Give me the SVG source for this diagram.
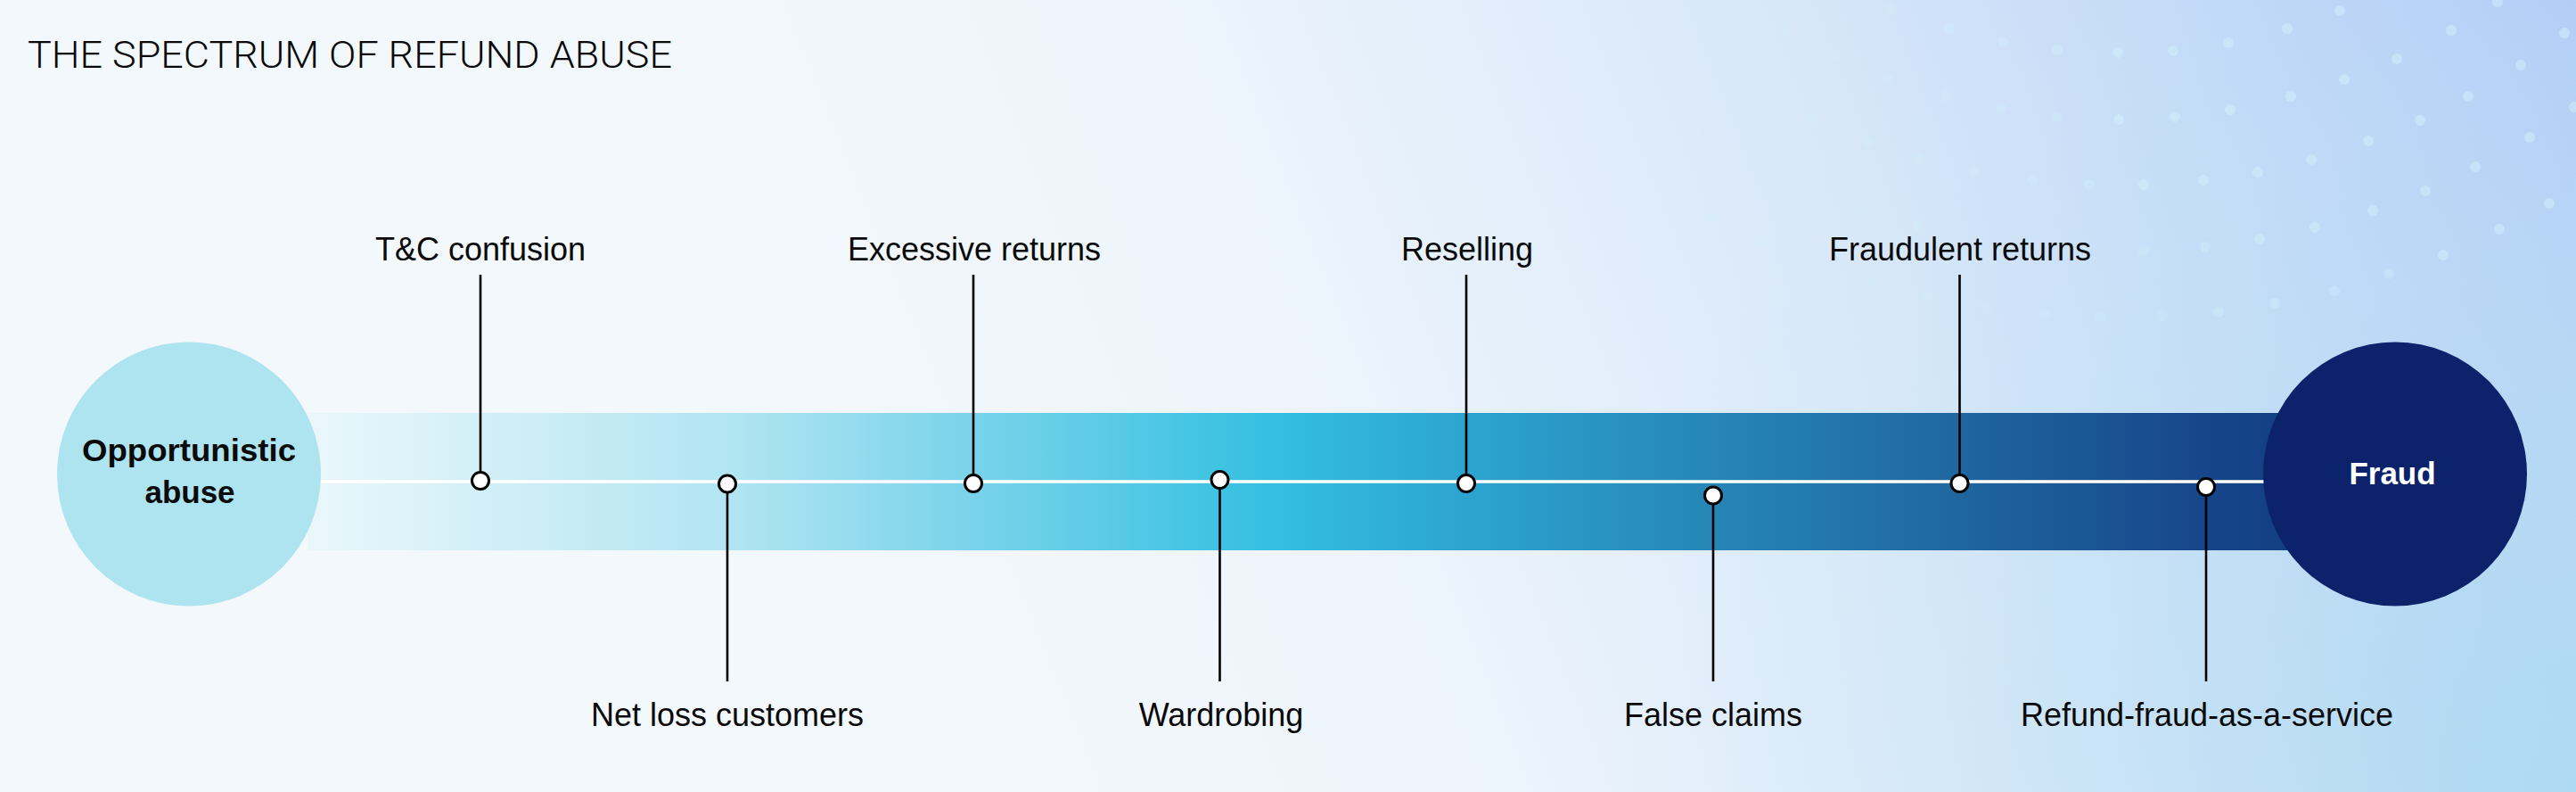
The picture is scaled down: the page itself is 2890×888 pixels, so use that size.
<svg xmlns="http://www.w3.org/2000/svg" width="2890" height="888" viewBox="0 0 2890 888">
  <defs>
    <linearGradient id="bg" gradientUnits="userSpaceOnUse" x1="900" y1="800" x2="2890" y2="0">
      <stop offset="0" stop-color="#f3f8fc"/>
      <stop offset="0.3" stop-color="#eef5fc"/>
      <stop offset="0.62" stop-color="#d7e7f9"/>
      <stop offset="1" stop-color="#b0cbf6"/>
    </linearGradient>
    <radialGradient id="bgCyan" gradientUnits="userSpaceOnUse" cx="2890" cy="888" r="1100">
      <stop offset="0" stop-color="#a9d9f0" stop-opacity="0.8"/>
      <stop offset="0.6" stop-color="#b9e0f3" stop-opacity="0.3"/>
      <stop offset="1" stop-color="#c8e6f6" stop-opacity="0"/>
    </radialGradient>
    <linearGradient id="band" gradientUnits="userSpaceOnUse" x1="345" y1="0" x2="2690" y2="0">
      <stop offset="0" stop-color="#eaf7fb"/>
      <stop offset="0.083" stop-color="#d3eff7"/>
      <stop offset="0.201" stop-color="#b2e5f2"/>
      <stop offset="0.318" stop-color="#79d3ea"/>
      <stop offset="0.436" stop-color="#40c3e3"/>
      <stop offset="0.467" stop-color="#33bde0"/>
      <stop offset="0.554" stop-color="#2ca4d0"/>
      <stop offset="0.672" stop-color="#2686b6"/>
      <stop offset="0.790" stop-color="#1f669f"/>
      <stop offset="0.908" stop-color="#16468a"/>
      <stop offset="1" stop-color="#10357a"/>
    </linearGradient>
  </defs>
  <style>
    .label { font-family: "Liberation Sans", Arial, sans-serif; font-size: 36px; fill: #0a0a0a; text-anchor: middle; }
    .hub { font-family: "Liberation Sans", Arial, sans-serif; font-size: 35px; font-weight: bold; text-anchor: middle; }
    .title { font-family: Roboto, "Liberation Sans", sans-serif; font-size: 43px; font-weight: 300; fill: #0a0a0a; }
    .dot { fill: #d2f2fb; }
    .lead { stroke: #000; stroke-width: 2.6; fill: none; }
    .pin { fill: #fff; stroke: #000; stroke-width: 3; }
  </style>

  <rect x="0" y="0" width="2890" height="888" fill="url(#bg)"/>
  <rect x="0" y="0" width="2890" height="888" fill="url(#bgCyan)"/>

  <g id="dots" class="dot">
    <g opacity="0.2">
      <circle cx="1914" cy="149" r="6"/><circle cx="1925" cy="73" r="6"/><circle cx="1969" cy="185" r="6"/><circle cx="1978" cy="105" r="6"/>
      <circle cx="2003" cy="33" r="6"/><circle cx="2026" cy="212" r="6"/><circle cx="2032" cy="133" r="6"/><circle cx="2059" cy="63" r="6"/>
      <circle cx="1919" cy="242" r="6"/><circle cx="1976" cy="270" r="6"/><circle cx="2039" cy="297" r="6"/><circle cx="2089" cy="236" r="6"/>
      <circle cx="2102" cy="317" r="6"/><circle cx="2162" cy="332" r="6"/><circle cx="2230" cy="345" r="6"/><circle cx="2294" cy="352" r="6"/>
      <circle cx="2356" cy="355" r="6"/><circle cx="2426" cy="354" r="6"/>
    </g>
    <g opacity="0.35">
      <circle cx="2122" cy="10" r="6"/><circle cx="2187" cy="32" r="6"/><circle cx="2247" cy="47" r="6"/><circle cx="2308" cy="56" r="6"/>
      <circle cx="2118" cy="88" r="6"/><circle cx="2183" cy="108" r="6"/><circle cx="2245" cy="122" r="6"/><circle cx="2307" cy="131" r="6"/>
      <circle cx="2096" cy="159" r="6"/><circle cx="2154" cy="178" r="6"/><circle cx="2214" cy="192" r="6"/><circle cx="2281" cy="202" r="6"/>
      <circle cx="2151" cy="253" r="6"/><circle cx="2344" cy="207" r="6"/><circle cx="2405" cy="282" r="6"/><circle cx="2474" cy="277" r="6"/>
      <circle cx="2489" cy="350" r="6"/><circle cx="2552" cy="340" r="6"/><circle cx="2619" cy="326" r="6"/><circle cx="2680" cy="307" r="6"/>
    </g>
    <g opacity="0.5">
      <circle cx="2376" cy="59" r="6"/><circle cx="2438" cy="57" r="6"/><circle cx="2500" cy="48" r="6"/><circle cx="2566" cy="32" r="6"/>
      <circle cx="2625" cy="12" r="6"/><circle cx="2802" cy="2" r="6"/><circle cx="2750" cy="34" r="6"/><circle cx="2877" cy="37" r="6"/>
      <circle cx="2689" cy="66" r="6"/><circle cx="2630" cy="89" r="6"/><circle cx="2570" cy="108" r="6"/><circle cx="2502" cy="123" r="6"/>
      <circle cx="2440" cy="131" r="6"/><circle cx="2377" cy="134" r="6"/><circle cx="2828" cy="73" r="6"/><circle cx="2769" cy="108" r="6"/>
      <circle cx="2715" cy="135" r="6"/><circle cx="2657" cy="158" r="6"/><circle cx="2593" cy="179" r="6"/><circle cx="2533" cy="193" r="6"/>
      <circle cx="2472" cy="202" r="6"/><circle cx="2405" cy="207" r="6"/><circle cx="2888" cy="120" r="6"/><circle cx="2838" cy="154" r="6"/>
      <circle cx="2777" cy="187" r="6"/><circle cx="2721" cy="214" r="6"/><circle cx="2662" cy="236" r="6"/><circle cx="2597" cy="255" r="6"/>
      <circle cx="2535" cy="268" r="6"/><circle cx="2860" cy="228" r="6"/><circle cx="2804" cy="257" r="6"/><circle cx="2741" cy="286" r="6"/>
    </g>
  </g>

  <text class="title" x="31" y="76" textLength="723" lengthAdjust="spacingAndGlyphs">THE SPECTRUM OF REFUND ABUSE</text>

  <rect id="band-bar" x="345" y="463" width="2345" height="154" fill="url(#band)"/>

  <g id="connectors">
    <line x1="360" y1="540" x2="2545" y2="540" stroke="#ffffff" stroke-width="3.5"/>
    <line class="lead" x1="539" y1="308" x2="539" y2="539"/>
    <line class="lead" x1="816" y1="542.5" x2="816" y2="764"/>
    <line class="lead" x1="1092" y1="308" x2="1092" y2="542"/>
    <line class="lead" x1="1368.5" y1="538" x2="1368.5" y2="764"/>
    <line class="lead" x1="1645" y1="308" x2="1645" y2="542"/>
    <line class="lead" x1="1922" y1="555.5" x2="1922" y2="764"/>
    <line class="lead" x1="2198.5" y1="308" x2="2198.5" y2="542"/>
    <line class="lead" x1="2475" y1="546" x2="2475" y2="764"/>
  </g>

  <g id="node-opportunistic">
    <circle cx="212" cy="531.5" r="148" fill="#aee3f0"/>
    <text class="hub" x="212" y="517" fill="#0a0a0a" textLength="240" lengthAdjust="spacingAndGlyphs">Opportunistic</text>
    <text class="hub" x="213" y="564" fill="#0a0a0a">abuse</text>
  </g>

  <g id="node-fraud">
    <circle cx="2687" cy="531.5" r="148" fill="#0c226b"/>
    <text class="hub" x="2684" y="543" fill="#ffffff">Fraud</text>
  </g>

  <g id="node-tc-confusion">
    <circle class="pin" cx="539" cy="539" r="9.5"/>
    <text class="label" x="539" y="292">T&amp;C confusion</text>
  </g>
  <g id="node-net-loss">
    <circle class="pin" cx="816" cy="542.5" r="9.5"/>
    <text class="label" x="816" y="814">Net loss customers</text>
  </g>
  <g id="node-excessive-returns">
    <circle class="pin" cx="1092" cy="542" r="9.5"/>
    <text class="label" x="1093" y="292">Excessive returns</text>
  </g>
  <g id="node-wardrobing">
    <circle class="pin" cx="1368.5" cy="538" r="9.5"/>
    <text class="label" x="1370" y="814">Wardrobing</text>
  </g>
  <g id="node-reselling">
    <circle class="pin" cx="1645" cy="542" r="9.5"/>
    <text class="label" x="1646" y="292">Reselling</text>
  </g>
  <g id="node-false-claims">
    <circle class="pin" cx="1922" cy="555.5" r="9.5"/>
    <text class="label" x="1922" y="814">False claims</text>
  </g>
  <g id="node-fraudulent-returns">
    <circle class="pin" cx="2198.5" cy="542" r="9.5"/>
    <text class="label" x="2199" y="292">Fraudulent returns</text>
  </g>
  <g id="node-rfaas">
    <circle class="pin" cx="2475" cy="546" r="9.5"/>
    <text class="label" x="2476" y="814">Refund-fraud-as-a-service</text>
  </g>
</svg>
